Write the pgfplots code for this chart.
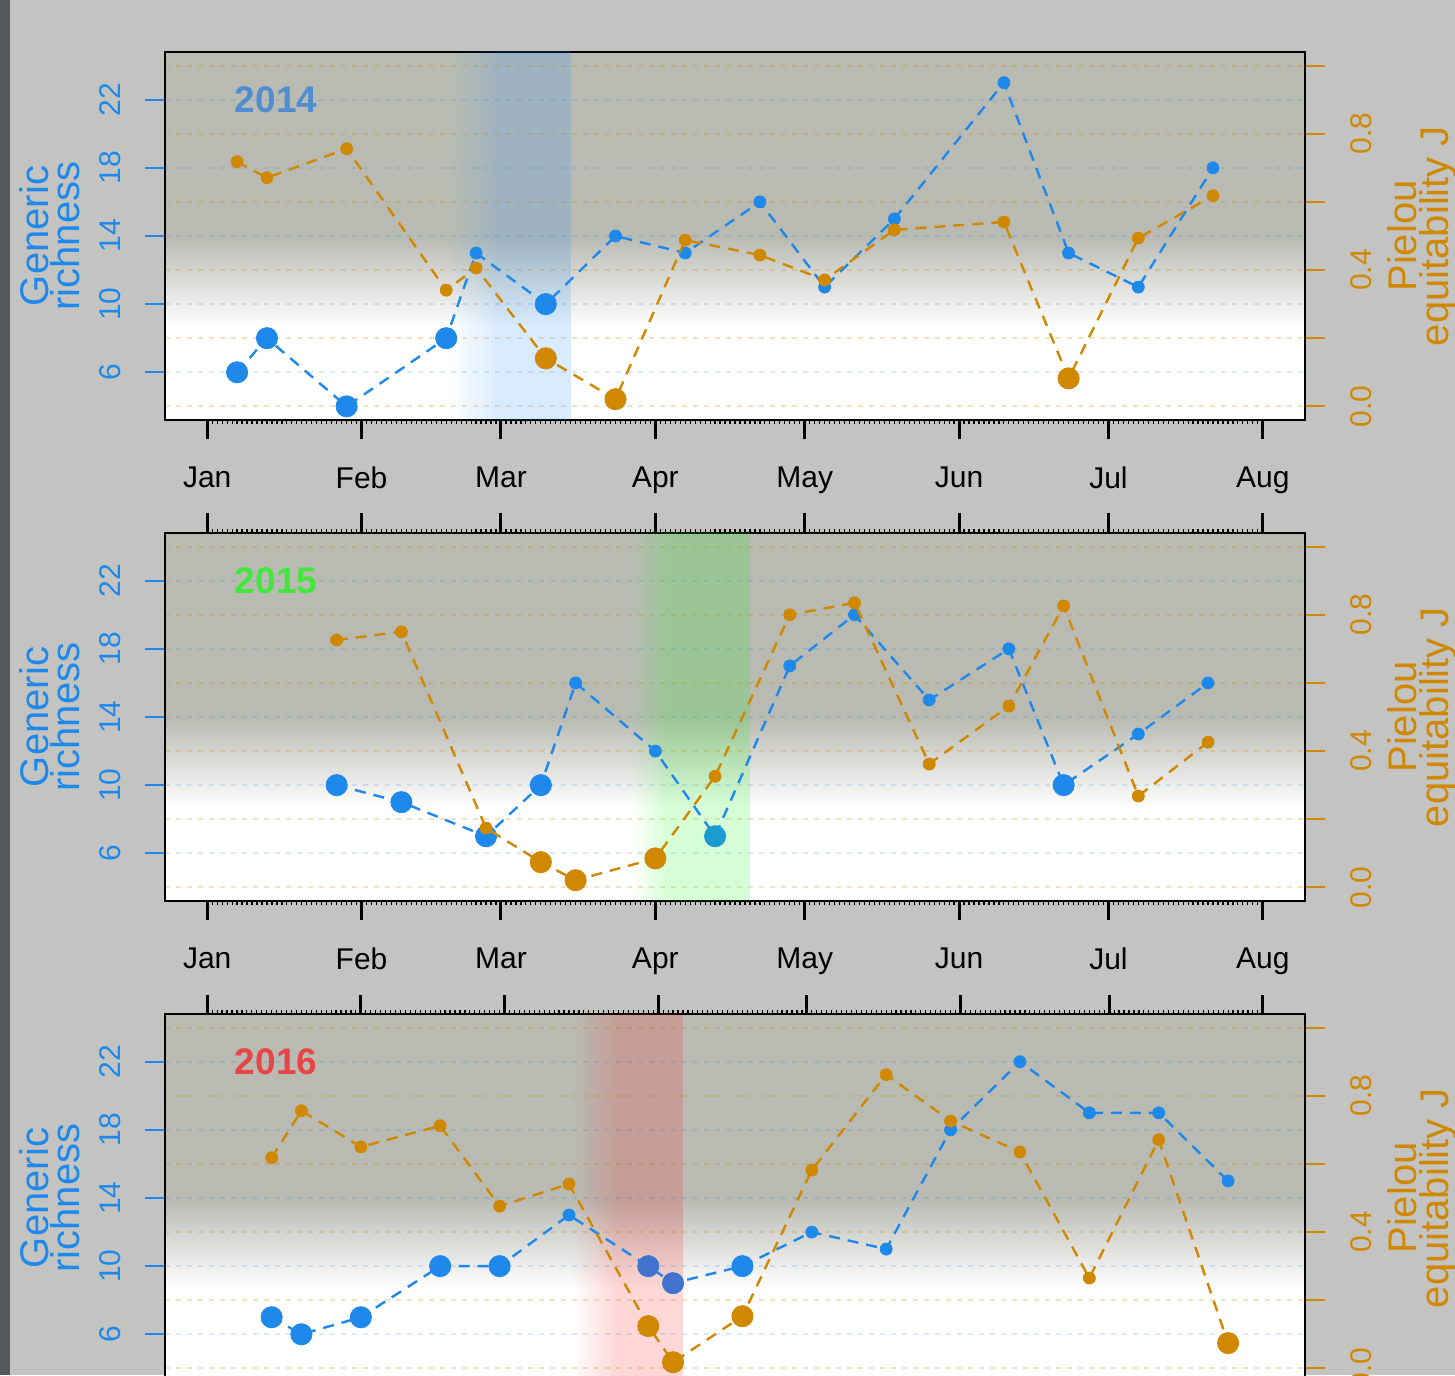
\documentclass[border=0pt]{standalone}
\usepackage{fontspec}
\setmainfont{Liberation Sans}
\usepackage{pgfplots}
\usepackage{pgfplotstable}
\pgfplotsset{compat=1.18}

\definecolor{outerbg}{RGB}{195,196,194}
\definecolor{stripc}{RGB}{85,88,91}
\definecolor{panelbg}{RGB}{185,187,179}
\definecolor{cb}{RGB}{30,136,235}
\definecolor{co}{RGB}{208,136,0}
\definecolor{cteal}{RGB}{28,155,208}
\definecolor{cdark}{RGB}{64,114,206}
\definecolor{y14}{RGB}{78,142,208}
\definecolor{y15}{RGB}{66,230,60}
\definecolor{y16}{RGB}{232,70,70}
\definecolor{bandb}{RGB}{30,144,255}
\definecolor{bandg}{RGB}{0,255,0}
\definecolor{bandr}{RGB}{255,0,0}

\newcommand{\ticksize}{\fontsize{15}{18}\selectfont}
\newcommand{\labelsize}{\fontsize{20}{14}\selectfont}
\newcommand{\yearfont}{\fontsize{18.5}{20}\selectfont\bfseries}

% sampling days (day of year, Jan 1 = 0)
\pgfplotstableread{
d v c
6 6 L
12 8 L
28 4 L
48 8 L
54 13 S
68 10 L
82 14 S
96 13 S
111 16 S
124 11 S
138 15 S
160 23 S
173 13 S
187 11 S
202 18 S
}\richA
\pgfplotstableread{
d v c
6 0.718 S
12 0.671 S
28 0.756 S
48 0.341 S
54 0.406 S
68 0.141 L
82 0.021 L
96 0.488 S
111 0.444 S
124 0.371 S
138 0.518 S
160 0.541 S
173 0.082 L
187 0.494 S
202 0.618 S
}\equiA
\pgfplotstableread{
d v c
26 10 L
39 9 L
56 7 L
67 10 L
74 16 S
90 12 S
102 7 T
117 17 S
130 20 S
145 15 S
161 18 S
172 10 L
187 13 S
201 16 S
}\richB
\pgfplotstableread{
d v c
26 0.726 S
39 0.750 S
56 0.174 S
67 0.074 L
74 0.021 L
90 0.085 L
102 0.326 S
117 0.800 S
130 0.835 S
145 0.362 S
161 0.532 S
172 0.826 S
187 0.268 S
201 0.426 S
}\equiB
\pgfplotstableread{
d v c
13 7 L
19 6 L
31 7 L
47 10 L
59 10 L
73 13 S
89 10 D
94 9 D
108 10 L
122 12 S
137 11 S
150 18 S
164 22 S
178 19 S
192 19 S
206 15 S
}\richC
\pgfplotstableread{
d v c
13 0.618 S
19 0.756 S
31 0.650 S
47 0.712 S
59 0.476 S
73 0.541 S
89 0.124 L
94 0.018 L
108 0.153 L
122 0.582 S
137 0.862 S
150 0.726 S
164 0.635 S
178 0.265 S
192 0.671 S
206 0.074 L
}\equiC

\pgfplotsset{
  base/.style={scale only axis, width=570pt, height=184pt, anchor=south west},
  yr14/.style={xmin=-8.48, xmax=220.48, xtick={0,31,59,90,120,151,181,212}, minor xtick={0,1,...,212}},
  yr16/.style={xmin=-8.52, xmax=221.52, xtick={0,31,60,91,121,152,182,213}, minor xtick={0,1,...,213}},
  leftscale/.style={ymin=3.2, ymax=24.8},
  rightscale/.style={ymin=-0.04, ymax=1.04},
  bgaxis/.style={base, leftscale, hide axis},
  raxis/.style={base, rightscale, hide x axis, axis y line*=right,
    ytick={0,0.2,0.4,0.6,0.8,1}, yticklabels={0.0,,0.4,,0.8,},
    ymajorgrids, major grid style={co, opacity=0.24, line width=1.1pt, dash pattern=on 2.5pt off 3pt},
    tick align=outside, major tick length=9.75pt,
    ytick style={co, line width=1.1pt},
    yticklabel style={rotate=90, anchor=north, inner sep=0pt, text=co, font=\ticksize},
    yticklabel shift=12.75pt,
    ylabel={Pielou\\equitability J},
    ylabel style={at={(rel axis cs:1,0.5)}, anchor=center, yshift=-58.5pt, align=center, text=co, font=\labelsize},
    axis line style={black, line width=1.2pt}},
  laxis/.style={base, leftscale,
    ytick={6,10,14,18,22}, yticklabels={6,10,14,18,22}, ytick pos=left,
    ymajorgrids, major grid style={cb, opacity=0.17, line width=1.1pt, dash pattern=on 2.5pt off 3pt},
    xticklabels={Jan,Feb,Mar,Apr,May,Jun,Jul,Aug}, xticklabel pos=left,
    tick align=outside, major tick length=9.75pt, minor tick length=2pt,
    ytick style={cb, line width=1.1pt},
    xtick style={black, line width=1.5pt},
    every minor x tick/.append style={line width=0.6pt},
    yticklabel style={rotate=90, anchor=south, inner sep=0pt, text=cb, font=\ticksize},
    yticklabel shift=12.25pt,
    xticklabel style={anchor=north, inner sep=0pt, font=\ticksize},
    xticklabel shift=13.25pt,
    ylabel={Generic\\richness},
    ylabel style={at={(rel axis cs:0,0.5)}, anchor=center, yshift=57.5pt, align=center, text=cb, font=\labelsize},
    axis line style={black, line width=1.2pt}},
  oaxis/.style={base, rightscale, hide axis},
  bline/.style={cb, line width=1.2pt, dash pattern=on 5.5pt off 4pt},
  oline/.style={co, line width=1.2pt, dash pattern=on 5.5pt off 4pt},
  bmarks/.style={scatter, only marks, point meta=explicit symbolic,
    scatter/classes={
      S={mark=*, mark size=3pt, draw=cb, fill=cb},
      L={mark=*, mark size=5.3pt, draw=cb, fill=cb},
      T={mark=*, mark size=5.3pt, draw=cteal, fill=cteal},
      D={mark=*, mark size=5.3pt, draw=cdark, fill=cdark}}},
  omarks/.style={scatter, only marks, point meta=explicit symbolic,
    scatter/classes={
      S={mark=*, mark size=3pt, draw=co, fill=co},
      L={mark=*, mark size=5.3pt, draw=co, fill=co}}},
}

% panel background: grey above, white below, soft transition
\newcommand{\bgshade}{%
  \fill[white] (axis cs:-20,3.0) rectangle (axis cs:240,8.8);
  \shade[bottom color=white, top color=panelbg] (axis cs:-20,8.7) rectangle (axis cs:240,13.9);
  \fill[panelbg] (axis cs:-20,13.8) rectangle (axis cs:240,25);
}
% highlighted period: #1 fade start, #2 full start, #3 end, #4 colour, #5 opacity
\newcommand{\band}[5]{%
  \pgfplotsinvokeforeach{0,...,11}{%
    \fill[#4, opacity={#5*(##1+0.5)/12}] (axis cs:{#1+(#2-#1)*##1/12},3.0) rectangle (axis cs:{#1+(#2-#1)*(##1+1)/12},25);
  }%
  \fill[#4, opacity=#5] (axis cs:#2,3.0) rectangle (axis cs:#3,25);
}

\begin{document}
\begin{tikzpicture}
\useasboundingbox (0,0) rectangle (727.5pt,687.5pt);
\clip (0,0) rectangle (727.5pt,687.5pt);
\fill[outerbg] (0,0) rectangle (727.5pt,687.5pt);
\fill[stripc] (0,0) rectangle (5pt,687.5pt);

% ---------------- 2014 ----------------
\begin{axis}[bgaxis, yr14, at={(82.5pt,477.5pt)}]
  \bgshade
\end{axis}
\begin{axis}[raxis, yr14, at={(82.5pt,477.5pt)}]
\end{axis}
\begin{axis}[laxis, yr14, xtick pos=left, at={(82.5pt,477.5pt)}]
  \band{48.7}{58.7}{73}{bandb}{0.17}
  \addplot[bline] table[x=d, y=v] {\richA};
  \addplot[bmarks] table[x=d, y=v, meta=c] {\richA};
  \node[font=\yearfont, text=y14] at (rel axis cs:0.0974,0.8696) {2014};
\end{axis}
\begin{axis}[oaxis, yr14, at={(82.5pt,477.5pt)}]
  \addplot[oline] table[x=d, y=v] {\equiA};
  \addplot[omarks] table[x=d, y=v, meta=c] {\equiA};
\end{axis}

% ---------------- 2015 ----------------
\begin{axis}[bgaxis, yr14, at={(82.5pt,237pt)}]
  \bgshade
\end{axis}
\begin{axis}[raxis, yr14, at={(82.5pt,237pt)}]
\end{axis}
\begin{axis}[laxis, yr14, xtick pos=both, at={(82.5pt,237pt)}]
  \band{85.3}{92.3}{109}{bandg}{0.155}
  \addplot[bline] table[x=d, y=v] {\richB};
  \addplot[bmarks] table[x=d, y=v, meta=c] {\richB};
  \node[font=\yearfont, text=y15] at (rel axis cs:0.0974,0.8696) {2015};
\end{axis}
\begin{axis}[oaxis, yr14, at={(82.5pt,237pt)}]
  \addplot[oline] table[x=d, y=v] {\equiB};
  \addplot[omarks] table[x=d, y=v, meta=c] {\equiB};
\end{axis}

% ---------------- 2016 ----------------
\begin{axis}[bgaxis, yr16, at={(82.5pt,-3.5pt)}]
  \bgshade
\end{axis}
\begin{axis}[raxis, yr16, at={(82.5pt,-3.5pt)}]
\end{axis}
\begin{axis}[laxis, yr16, xtick pos=both, xticklabels={}, at={(82.5pt,-3.5pt)}]
  \band{73.8}{82.7}{96}{bandr}{0.155}
  \addplot[bline] table[x=d, y=v] {\richC};
  \addplot[bmarks] table[x=d, y=v, meta=c] {\richC};
  \node[font=\yearfont, text=y16] at (rel axis cs:0.0974,0.8696) {2016};
\end{axis}
\begin{axis}[oaxis, yr16, at={(82.5pt,-3.5pt)}]
  \addplot[oline] table[x=d, y=v] {\equiC};
  \addplot[omarks] table[x=d, y=v, meta=c] {\equiC};
\end{axis}
\end{tikzpicture}
\end{document}
